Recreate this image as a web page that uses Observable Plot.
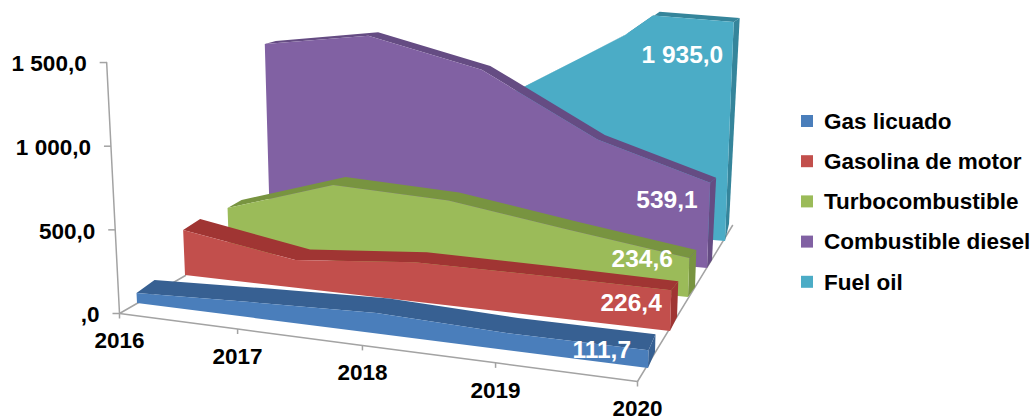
<!DOCTYPE html>
<html lang="es">
<head>
<meta charset="utf-8">
<script src="https://cdn.jsdelivr.net/npm/d3@7"></script>
<script src="https://cdn.jsdelivr.net/npm/@observablehq/plot@0.6"></script>
<style>html,body{margin:0;padding:0;background:#fff;overflow:hidden}svg{display:block}</style>
</head>
<body>
<div id="chart"></div>
<script>
// ---- data ----
const years = [2016, 2017, 2018, 2019, 2020];
const seriesNames = ["Gas licuado", "Gasolina de motor", "Turbocombustible", "Combustible diesel", "Fuel oil"];
const gasLicuado = [62, 97, 128, 106, 111.7];
const gasolina = [250, 154, 218, 225, 226.4];
const turbo = [253, 457, 434, 331, 234.6];
const diesel = [1158, 1270, 1120, 747, 539.1];
const fuelOil = [500, 700, 888, 1350, 1935];
const seriesValues = [gasLicuado, gasolina, turbo, diesel, fuelOil];
const valueTicks = [0, 500, 1000, 1500];
const valueTickLabels = [",0", "500,0", "1 000,0", "1 500,0"];
const endLabels = ["111,7", "226,4", "234,6", "539,1", "1 935,0"];

// ---- colours ----
const frontColors = ["#4a7ebb", "#c24f4c", "#9bbb59", "#8161a3", "#4bacc6"];
const darkColors = ["#376092", "#a03533", "#789440", "#654c83", "#35859b"];
const axisColor = "#a3a3a3";
const font = "'Liberation Sans', Arial, sans-serif";

// ---- the 3-D view: where the value 0 of each series lies on the floor ----
const W = 1034, H = 418, axisMax = 1500;
const view = [
  {L: [137, 303], R: [648, 368], k: .160, oL: [18, -13], oR: [7, -16], oB: [7, -16]},
  {L: [185, 275], R: [670, 331], k: .180, oL: [17, -11], oR: [7, -9],  oB: [7, -14]},
  {L: [229, 250], R: [688, 297], k: .166, oL: [14, -8],  oR: [7, -8],  oB: [7, -10]},
  {L: [270, 227], R: [707, 268], k: .158, oL: [11, -3],  oR: [6, -5],  oB: [5, -8]},
  {L: [305, 206], R: [725, 241], k: .146, oL: [9, -3],   oR: [6, -4],  oB: [4, -17]}
];
const floorFront = {L: [119, 313], R: [637, 381]};
const floorBackRight = [732, 225];
const axisK = .1673;
const sFront = [0, .228, .469, .726, 1], sBack = [0, .232, .488, .75, 1];
const lean = x => (x - 460) * .00015;
const lerp = (a, b, t) => a + (b - a) * t;
const spread = (t, i) => {
  const f = Math.floor(t), c = Math.min(4, f + 1), u = t - f;
  return lerp(lerp(sFront[f], sFront[c], u), lerp(sBack[f], sBack[c], u), i / 4);
};
function project(i, t, v) {
  const d = view[i], s = spread(t, i);
  const x0 = lerp(d.L[0], d.R[0], s), y0 = lerp(d.L[1], d.R[1], s);
  const h = Math.min(v, axisMax) * d.k;
  const ox = lerp(d.oL[0], d.oR[0], s), oy = lerp(d.oL[1], d.oR[1], s);
  return {bx0: x0, by0: y0, tx: x0 + h * lean(x0), ty: y0 - h, ox, oy};
}
const axisPoint = v => {
  const h = v * axisK;
  return [floorFront.L[0] + h * lean(floorFront.L[0]), floorFront.L[1] - h];
};

// each series with a vertex added where it crosses the top of the axis
function vertices(i) {
  const vals = seriesValues[i], out = [];
  vals.forEach((v, t) => {
    if (t > 0) {
      const p = vals[t - 1];
      if ((p - axisMax) * (v - axisMax) < 0) out.push({t: t - 1 + (axisMax - p) / (v - p), v: axisMax});
    }
    out.push({t, v});
  });
  return out.map(({t, v}) => {
    const p = project(i, t, v);
    return {
      name: seriesNames[i],
      fx1: p.bx0, fy1: p.by0, fx2: p.tx, fy2: p.ty,
      bx1: p.tx + p.ox, by1: p.ty + p.oy
    };
  });
}
function sideFace(i) {
  const p = project(i, 4, seriesValues[i][4]), d = view[i];
  return [
    {x1: p.bx0, y1: p.by0, x2: p.tx, y2: p.ty},
    {x1: p.bx0 + d.oB[0], y1: p.by0 + d.oB[1], x2: p.tx + d.oR[0], y2: p.ty + d.oR[1]}
  ];
}

// ---- marks, back to front ----
const faceMarks = [4, 3, 2, 1, 0].flatMap(i => {
  const rows = vertices(i);
  return [
    Plot.area(rows, {x1: "fx2", y1: "fy2", x2: "bx1", y2: "by1", fill: darkColors[i], curve: "linear"}),
    Plot.area(sideFace(i), {x1: "x1", y1: "y1", x2: "x2", y2: "y2", fill: darkColors[i], curve: "linear"}),
    Plot.area(rows, {x1: "fx1", y1: "fy1", x2: "fx2", y2: "fy2", fill: "name", curve: "linear"})
  ];
});

const frontLine = years.map((y, t) => ({
  year: y,
  x: lerp(floorFront.L[0], floorFront.R[0], sFront[t]),
  y: lerp(floorFront.L[1], floorFront.R[1], sFront[t])
}));
const axisLine = [axisPoint(0), axisPoint(axisMax)].map(([x, y]) => ({x, y}));
const valueRows = valueTicks.map((v, i) => {
  const [x, y] = axisPoint(v);
  return {x, y, label: valueTickLabels[i]};
});
const labelOffset = [[-18, 0], [-10, 12], [-17, 1], [-13, 17], [-11, 33]];
const labelRows = endLabels.map((label, i) => {
  const p = project(i, 4, seriesValues[i][4]);
  return {label, x: p.tx + labelOffset[i][0], y: p.ty + labelOffset[i][1]};
});
const legendRows = seriesNames.map((name, i) => ({name, y: 121 + i * 40.2}));
const text = {fontFamily: font, fontWeight: "bold", fontSize: 22.5};

const chart = Plot.plot({
  width: W, height: H,
  margin: 0,
  style: {background: "#fff"},
  x: {domain: [0, W], range: [0, W], axis: null},
  y: {domain: [0, H], range: [0, H], axis: null},
  color: {domain: seriesNames, range: frontColors},
  marks: [
    // floor and axes
    Plot.line(frontLine, {x: "x", y: "y", stroke: axisColor, strokeWidth: 1.5}),
    Plot.line([frontLine[4], {x: floorBackRight[0], y: floorBackRight[1]}], {x: "x", y: "y", stroke: axisColor, strokeWidth: 1.5}),
    Plot.line([frontLine[0], {x: view[1].L[0], y: view[1].L[1]}], {x: "x", y: "y", stroke: axisColor, strokeWidth: 1.5}),
    Plot.line(axisLine, {x: "x", y: "y", stroke: axisColor, strokeWidth: 1.5}),
    Plot.link(valueRows, {x1: "x", y1: "y", x2: d => d.x - 7, y2: "y", stroke: axisColor, strokeWidth: 1.5}),
    Plot.link(frontLine, {x1: "x", y1: "y", x2: "x", y2: d => d.y + 5, stroke: axisColor, strokeWidth: 1.5}),
    ...faceMarks,
    // tick labels
    Plot.text(valueRows, {x: "x", y: "y", dx: -20, dy: 1.5, text: "label", textAnchor: "end", fill: "#000", ...text}),
    Plot.text(frontLine, {x: "x", y: "y", dy: 27.5, text: d => String(d.year), textAnchor: "middle", fill: "#000", ...text}),
    // value labels
    Plot.text(labelRows, {x: "x", y: "y", text: "label", textAnchor: "end", fill: "#fff", fontFamily: font, fontWeight: "bold", fontSize: 24.5}),
    // legend
    Plot.rect(legendRows, {x1: () => 801, x2: () => 813, y1: d => d.y - 6, y2: d => d.y + 6, fill: "name"}),
    Plot.text(legendRows, {x: () => 823.5, y: "y", text: "name", textAnchor: "start", fill: "#000", ...text})
  ]
});
document.getElementById("chart").append(chart);
</script>
</body>
</html>
